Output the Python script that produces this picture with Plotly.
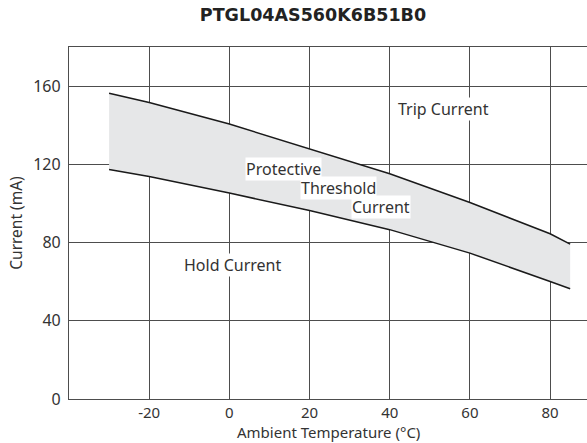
import plotly.graph_objects as go

temps = [-30, -20, 0, 20, 40, 60, 80, 85]
trip_current = [156.4, 151.6, 140.6, 127.8, 115.2, 100.5, 84.5, 79.2]
hold_current = [117.4, 113.8, 105.3, 96.4, 86.6, 74.6, 60.1, 56.4]

x_ticks = [-20, 0, 20, 40, 60, 80]
x_tick_labels = ["-20", "0", "20", "40", "60", "80"]
y_ticks = [0, 40, 80, 120, 160]

title_text = "PTGL04AS560K6B51B0"
x_title = "Ambient Temperature (°C)"
y_title = "Current (mA)"
font_family = "'Noto Sans', 'Open Sans', sans-serif"
grid_color = "#4d4d4d"
text_color = "#333333"

fig = go.Figure()
fig.add_trace(go.Scatter(x=temps, y=hold_current, mode="lines",
                         line=dict(color="#1a1a1a", width=1.5), showlegend=False))
fig.add_trace(go.Scatter(x=temps, y=trip_current, mode="lines", fill="tonexty",
                         fillcolor="#e6e7e8",
                         line=dict(color="#1a1a1a", width=1.5), showlegend=False))

ann_style = dict(showarrow=False, font=dict(family=font_family, size=16, color=text_color),
                 bgcolor="white", borderpad=0)
fig.add_annotation(x=13.4, y=117.7, text="Protective", **ann_style)
fig.add_annotation(x=27.1, y=108.0, text="Threshold", **ann_style)
fig.add_annotation(x=37.9, y=98.3, text="Current", **ann_style)
fig.add_annotation(x=53.5, y=148.4, text="Trip Current", **ann_style)
fig.add_annotation(x=0.75, y=68.3, text="Hold Current", **ann_style)

# x-axis title placed just below tick labels (plot area spans 352 px in height)
fig.add_annotation(x=0.5, xref="paper", y=(399 - 432) / 352, yref="paper",
                   yanchor="middle", text=x_title, showarrow=False,
                   font=dict(family=font_family, size=15, color=text_color))

fig.update_layout(
    width=587, height=443,
    margin=dict(l=69, r=0, t=47, b=44, autoexpand=False),
    paper_bgcolor="white", plot_bgcolor="white",
    font=dict(family=font_family, size=16, color=text_color),
    title=dict(text="<b>" + title_text + "</b>", x=313 / 587, xanchor="center",
               y=1 - 15 / 443, yanchor="middle", xref="container", yref="container",
               font=dict(family="'DejaVu Sans', sans-serif", size=17.5, color="#222222")),
    xaxis=dict(range=[-40, 89.2], tickvals=x_ticks, ticktext=x_tick_labels,
               showgrid=True, gridcolor=grid_color, automargin=False,
               gridwidth=1.2, zeroline=False, showline=True, linecolor=grid_color,
               linewidth=1.2, mirror=True, ticks="", tickfont=dict(size=15)),
    yaxis=dict(range=[0, 180], tickvals=y_ticks, showgrid=True, gridcolor=grid_color,
               automargin=False, ticklabelstandoff=4,
               gridwidth=1.2, zeroline=False, showline=True, linecolor=grid_color,
               linewidth=1.2, ticks="", title=dict(text=y_title, standoff=6,
                                                   font=dict(size=15.5))),
)

fig.write_html("out.html", config={"displayModeBar": False},
               post_script="document.body.style.margin='0';document.body.style.overflow='hidden';")
